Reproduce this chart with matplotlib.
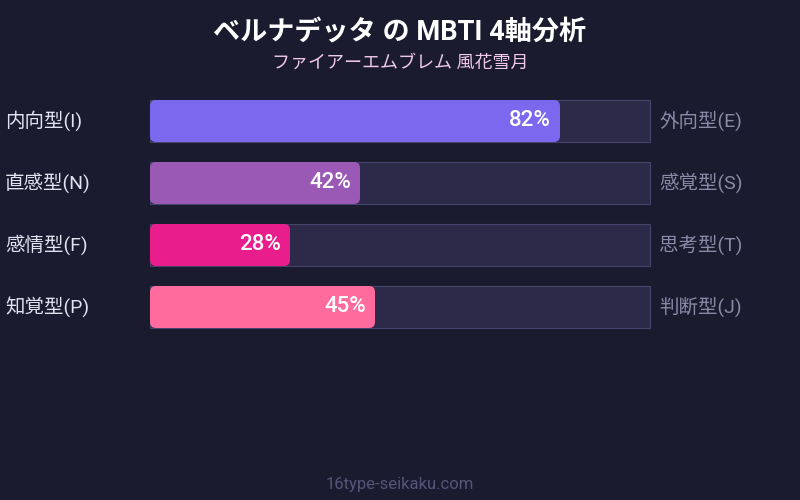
import matplotlib.pyplot as plt
from matplotlib.patches import FancyBboxPatch, Rectangle

plt.rcParams['font.family'] = ['Roboto', 'Noto Sans CJK JP', 'DejaVu Sans']

title = "ベルナデッタ の MBTI 4軸分析"
subtitle = "ファイアーエムブレム 風花雪月"
left_labels = ["内向型(I)", "直感型(N)", "感情型(F)", "知覚型(P)"]
right_labels = ["外向型(E)", "感覚型(S)", "思考型(T)", "判断型(J)"]
values = [82, 42, 28, 45]
colors = ["#7b68ee", "#9b59b6", "#e91e8c", "#ff6b9d"]
footer = "16type-seikaku.com"

BG = "#1a1b2e"


def main():
    fig = plt.figure(figsize=(8, 5), dpi=100, facecolor=BG)
    # bar area: x 150..650 px, y 100..328 px
    ax = fig.add_axes([150 / 800, 1 - 328 / 500, 500 / 800, 228 / 500])
    ax.set_facecolor(BG)
    pad = 21 / 62
    ax.set_xlim(0, 100)
    ax.set_ylim(len(values) - 1 + pad, -pad)
    ax.axis("off")
    h = 42 / 62

    for i, (v, c) in enumerate(zip(values, colors)):
        ax.add_patch(Rectangle((0, i - h / 2), 100, h, facecolor="#2c2a48",
                               edgecolor="#46446a", linewidth=0.8, clip_on=False))
        ax.add_patch(FancyBboxPatch((0, i - h / 2), v, h,
                                    boxstyle="round,pad=0,rounding_size=1.2",
                                    mutation_aspect=5 / 62, facecolor=c,
                                    edgecolor="none", clip_on=False))
        ax.text(v - 1.8, i, f"{v}%", ha="right", va="center",
                color="white", fontsize=16, fontweight="medium")
        ax.text(-29, i, left_labels[i], ha="left", va="center",
                color="#e2e2f0", fontsize=14)
        ax.text(101.8, i, right_labels[i], ha="left", va="center",
                color="#8a8aa8", fontsize=14)

    fig.text(0.5, 1 - 33 / 500, title, ha="center", va="center",
             color="white", fontsize=19.5, fontweight="bold")
    fig.text(0.5, 1 - 63 / 500, subtitle, ha="center", va="center",
             color="#f0c8e8", fontsize=13)
    fig.text(0.5, 1 - 484 / 500, footer, ha="center", va="center",
             color="#55557a", fontsize=12)

    fig.savefig("out.png", dpi=100, facecolor=BG)


if __name__ == "__main__":
    main()
